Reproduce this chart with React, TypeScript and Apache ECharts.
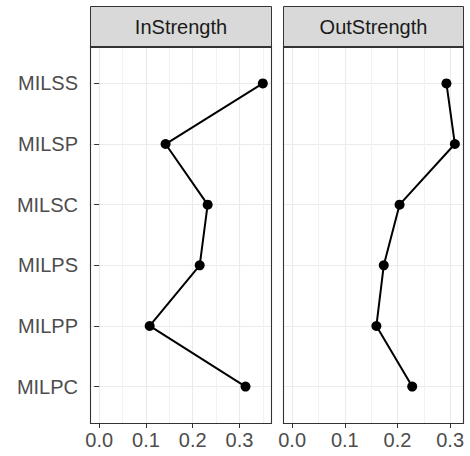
import React, { useEffect, useRef } from "react";
import * as echarts from "echarts";

const categories = ["MILSS", "MILSP", "MILSC", "MILPS", "MILPP", "MILPC"];
const panels = ["InStrength", "OutStrength"];
const inStrength = [0.350, 0.142, 0.232, 0.215, 0.108, 0.313];
const outStrength = [0.293, 0.309, 0.204, 0.174, 0.160, 0.228];
const xTicks = [0, 0.1, 0.2, 0.3];
const xMinor = [0.05, 0.15, 0.25, 0.35];

const FONT = "'Liberation Sans', Arial, Helvetica, sans-serif";
const n = categories.length;
const yPos = (i: number) => n - i;

function expandRange(vals: number[]) {
  const lo = Math.min(0, ...vals);
  const hi = Math.max(...vals);
  const pad = (hi - lo) * 0.05;
  return [lo - pad, hi + pad];
}

export default function App() {
  const ref = useRef<HTMLDivElement>(null);
  useEffect(() => {
    if (!ref.current) return;
    const chart = echarts.init(ref.current, null, { renderer: "svg" });
    const grids = [
      { left: 91, top: 47, width: 180, height: 376 },
      { left: 284, top: 47, width: 179, height: 376 },
    ];
    const series = [inStrength, outStrength];
    const ranges = series.map(expandRange);
    const yLabels = [1, 2, 3, 4, 5, 6];

    const xAxis: any[] = [];
    const yAxis: any[] = [];
    grids.forEach((g, gi) => {
      xAxis.push({
        type: "value",
        gridIndex: gi,
        min: ranges[gi][0],
        max: ranges[gi][1],
        axisLine: { show: false },
        axisTick: { show: true, length: 5, lineStyle: { color: "#333333", width: 1 }, customValues: xTicks },
        axisLabel: {
          customValues: xTicks,
          formatter: (v: number) => v.toFixed(1),
          color: "#4D4D4D",
          fontSize: 20,
          fontFamily: FONT,
          margin: 7,
        },
        splitLine: { show: true, lineStyle: { color: "#EBEBEB", width: 1.1 } },
      });
    });
    grids.forEach((g, gi) => {
      xAxis.push({
        type: "value",
        gridIndex: gi,
        position: "top",
        min: ranges[gi][0],
        max: ranges[gi][1],
        axisLine: { show: false },
        axisTick: { show: false, customValues: xMinor },
        axisLabel: { show: false, customValues: xMinor },
        splitLine: { show: true, lineStyle: { color: "#F2F2F2", width: 1 } },
      });
    });
    grids.forEach((g, gi) => {
      yAxis.push({
        type: "value",
        gridIndex: gi,
        min: 0.4,
        max: 6.6,
        axisLine: { show: false },
        axisTick: { show: gi === 0, length: 5, lineStyle: { color: "#333333", width: 1 }, customValues: yLabels },
        axisLabel: {
          show: gi === 0,
          customValues: yLabels,
          formatter: (v: number) => categories[n - Math.round(v)] ?? "",
          color: "#4D4D4D",
          fontSize: 20,
          fontFamily: FONT,
          margin: 13,
        },
        splitLine: { show: true, lineStyle: { color: "#EBEBEB", width: 1.1 } },
      });
    });

    const graphic: any[] = [];
    grids.forEach((g, gi) => {
      graphic.push({
        type: "rect",
        shape: { x: g.left - 0.5, y: 6.5, width: g.width + 1, height: g.top - 6 },
        style: { fill: "#D9D9D9", stroke: "#333333", lineWidth: 1 },
        z: 10,
      });
      graphic.push({
        type: "text",
        x: g.left + g.width / 2,
        y: 27,
        style: {
          text: panels[gi],
          fill: "#1A1A1A",
          font: `20px ${FONT}`,
          align: "center",
          verticalAlign: "middle",
        },
        z: 11,
      });
      graphic.push({
        type: "rect",
        shape: { x: g.left - 0.5, y: g.top - 0.5, width: g.width + 1, height: g.height + 1 },
        style: { fill: "none", stroke: "#333333", lineWidth: 1.1 },
        z: 10,
      });
    });

    chart.setOption({
      animation: false,
      backgroundColor: "#ffffff",
      grid: grids.map((g) => ({ ...g, show: false })),
      xAxis,
      yAxis,
      graphic,
      series: series.map((vals, gi) => ({
        type: "line",
        xAxisIndex: gi,
        yAxisIndex: gi,
        data: vals.map((v, i) => [v, yPos(i)]),
        symbol: "circle",
        symbolSize: 10,
        showSymbol: true,
        itemStyle: { color: "#000000" },
        lineStyle: { color: "#000000", width: 2 },
        z: 5,
      })),
    });
    return () => chart.dispose();
  }, []);
  return (
    <div
      ref={ref}
      style={{ position: "fixed", left: 0, top: 0, width: 470, height: 456, background: "#fff" }}
    />
  );
}
